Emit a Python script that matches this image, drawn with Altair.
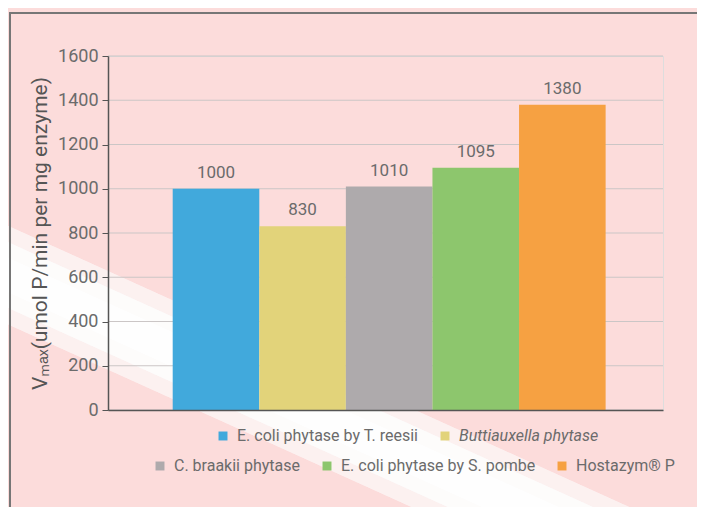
import altair as alt
import pandas as pd

names = ["E. coli phytase by T. reesii", "Buttiauxella phytase", "C. braakii phytase",
         "E. coli phytase by S. pombe", "Hostazym® P"]
values = [1000, 830, 1010, 1095, 1380]
colors = ["#41a9dc", "#e2d37a", "#aeaaac", "#8dc66d", "#f6a142"]
row1 = names[:2]
row2 = names[2:]
y_ticks = [0, 200, 400, 600, 800, 1000, 1200, 1400, 1600]

df = pd.DataFrame({"name": names, "value": values})
grid_df = pd.DataFrame({"value": y_ticks})

FONT = "Roboto, Open Sans, sans-serif"
TXT = "#6b6b6b"

x_enc = alt.X("name:N", scale=alt.Scale(domain=names, paddingInner=0, paddingOuter=0.705, align=0.53),
              axis=alt.Axis(labels=False, ticks=False, title=None, domainColor="#555", domainWidth=1.5,
                            zindex=1))
y_scale = alt.Scale(domain=[0, 1600], nice=False)
y_enc = alt.Y("value:Q", scale=y_scale,
              axis=alt.Axis(values=y_ticks, format="d", grid=False, zindex=1,
                            title="Vₘₐₓ(umol P/min per mg enzyme)",
                            titleFontSize=21, titleColor="#555555", titleFontWeight="normal",
                            titlePadding=7, labelFontSize=18, labelColor=TXT, labelPadding=4,
                            tickColor="#555", tickSize=6, domainColor="#555", domainWidth=1.5))

def legend(x, y):
    return alt.Legend(title=None, orient="none", legendX=x, legendY=y, direction="horizontal",
                      symbolType="square", symbolSize=80, symbolStrokeWidth=0,
                      labelFontSize=16, labelColor=TXT, labelFont=FONT, columnPadding=18,
                      labelOffset=6, labelLimit=0,
                      labelFontStyle=alt.ExprRef("datum.label == 'Buttiauxella phytase' ? 'italic' : 'normal'"))

base = alt.Chart(df)

def stripe(width, opacity):
    return base.mark_rule(color="white", strokeWidth=width, opacity=opacity, strokeCap="butt").encode(
        x=alt.value(-120), y=alt.value(210), x2=alt.value(620), y2=alt.value(545))

grid = alt.Chart(grid_df).mark_rule(color="#cbc6c6", strokeWidth=1).encode(
    y=alt.Y("value:Q", scale=y_scale))

bars1 = base.transform_filter(alt.FieldOneOfPredicate(field="name", oneOf=row1)).mark_bar().encode(
    x=x_enc, y=y_enc,
    color=alt.Color("name:N", scale=alt.Scale(domain=row1, range=colors[:2]), legend=legend(107, 372)))
bars2 = base.transform_filter(alt.FieldOneOfPredicate(field="name", oneOf=row2)).mark_bar().encode(
    x=x_enc, y=y_enc,
    color=alt.Color("name:N", scale=alt.Scale(domain=row2, range=colors[2:]), legend=legend(44, 402)))

labels = base.mark_text(baseline="bottom", dy=-7, fontSize=17, color=TXT, font=FONT).encode(
    x=x_enc, y=y_enc, text=alt.Text("value:Q"))

frame = base.mark_rect(fillOpacity=0, stroke="#777", strokeWidth=1.5).encode(
    x=alt.value(-98), x2=alt.value(800), y=alt.value(-43), y2=alt.value(800))

chart = alt.layer(
    stripe(90, 0.18), stripe(60, 0.28), stripe(32, 0.4),
    grid, bars1, bars2, labels, frame
).resolve_scale(
    color="independent"
).properties(
    width=555, height=354,
    autosize=alt.AutoSizeParams(type="none"),
    padding={"left": 100, "top": 48, "right": 34, "bottom": 97},
    background="#fcdcdb",
).configure_view(stroke="#555", strokeWidth=1.5).configure(font=FONT)

chart.save("out.html", embed_options={"renderer": "svg", "actions": False})
